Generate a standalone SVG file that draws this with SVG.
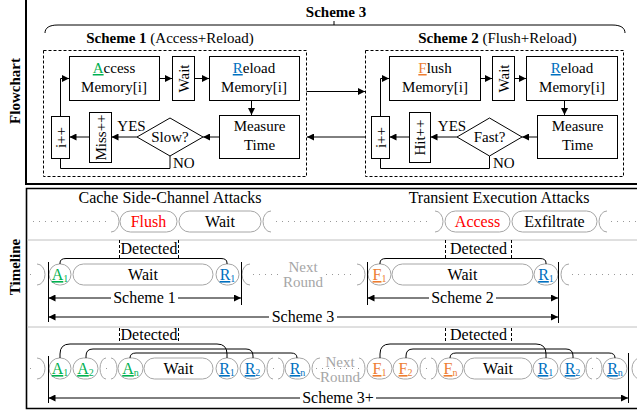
<svg xmlns="http://www.w3.org/2000/svg" width="637" height="412" viewBox="0 0 637 412">
<style>
.t{font-family:"Liberation Serif","Times New Roman",serif;font-size:15px;fill:#000}
.tl{font-size:16px}
.b{font-weight:bold}
.c{text-anchor:middle}
.box{fill:#fff;stroke:#000;stroke-width:1}
.dash{fill:none;stroke:#000;stroke-width:1;stroke-dasharray:3 2}
.ln{fill:none;stroke:#000;stroke-width:1}
.pill{fill:#fff;stroke:#a6a6a6;stroke-width:1}
.cap{fill:none;stroke:#a6a6a6;stroke-width:1}
.dot{fill:none;stroke:#999;stroke-width:1;stroke-dasharray:1 5}
.gr{fill:#a6a6a6}
.gn{fill:#00b050}
.bl{fill:#0070c0}
.or{fill:#ed7d31}
.rd{fill:#ff0000}
.u{text-decoration:underline}
.s{font-size:10px}
</style>
<defs>
<marker id="ah" viewBox="0 0 10 10" refX="10" refY="5" markerWidth="7" markerHeight="7" orient="auto-start-reverse" markerUnits="userSpaceOnUse"><path d="M0,0 L10,5 L0,10 z" fill="#000"/></marker>
</defs>

<!-- panels -->
<g id="panels">
<path d="M26,-2 V184 H640" fill="none" stroke="#000" stroke-width="2"/>
<path d="M640,188.5 H26.5 V408.5 H640" fill="none" stroke="#000" stroke-width="1.6"/>
<line x1="27" y1="240" x2="637" y2="240" stroke="#c0c0c0"/>
<line x1="27" y1="327" x2="637" y2="327" stroke="#c0c0c0"/>
<text class="t b c" font-size="20" transform="translate(20,91) rotate(-90)">Flowchart</text>
<text class="t b c" font-size="20" transform="translate(20,267) rotate(-90)">Timeline</text>
</g>

<!-- Scheme 3 brace -->
<g id="scheme3">
<text class="t b c" x="336" y="17">Scheme 3</text>
<path class="ln" d="M45,33 C45,28 49,25 58,25 H612 C621,25 625,28 625,33 M334,25 V21"/>
</g>

<!-- Scheme 1 -->
<g id="scheme1">
<rect class="dash" x="43.5" y="50.5" width="263" height="126"/>
<text class="t c" font-size="15.5" x="170" y="43"><tspan class="b">Scheme 1</tspan> (Access+Reload)</text>
</g>
<g id="s1-access"><rect class="box" x="69.5" y="56.5" width="90" height="44"/>
<text class="t c" x="114" y="73"><tspan class="gn u">A</tspan>ccess</text><text class="t c" x="114" y="92">Memory[i]</text></g>
<g id="s1-wait"><rect class="box" x="172.5" y="56.5" width="22" height="44"/>
<text class="t c" transform="translate(188.5,78.5) rotate(-90)">Wait</text></g>
<g id="s1-reload"><rect class="box" x="209.5" y="56.5" width="90" height="44"/>
<text class="t c" x="254" y="73"><tspan class="bl u">R</tspan>eload</text><text class="t c" x="254" y="92">Memory[i]</text></g>
<g id="s1-measure"><rect class="box" x="219.5" y="115.5" width="80" height="43"/>
<text class="t c" x="259.5" y="131">Measure</text><text class="t c" x="259.5" y="150">Time</text></g>
<g id="s1-slow"><polygon class="box" points="137,137 170,118 203,137 170,156"/>
<text class="t c" x="170" y="142">Slow?</text></g>
<g id="s1-miss"><rect class="box" x="89.5" y="112.5" width="22" height="50"/>
<text class="t c" transform="translate(105.5,137.5) rotate(-90)">Miss++</text></g>
<g id="s1-inc"><rect class="box" x="51.5" y="116.5" width="18" height="42"/>
<text class="t c" transform="translate(65.5,137.5) rotate(-90)">i++</text></g>

<!-- Scheme 2 -->
<g id="scheme2">
<rect class="dash" x="365.5" y="50.5" width="258" height="126"/>
<text class="t c" font-size="15.5" x="497.5" y="43"><tspan class="b">Scheme 2</tspan> (Flush+Reload)</text>
</g>
<g id="s2-flush"><rect class="box" x="389.5" y="56.5" width="91" height="44"/>
<text class="t c" x="435" y="73"><tspan class="or u">F</tspan>lush</text><text class="t c" x="435" y="92">Memory[i]</text></g>
<g id="s2-wait"><rect class="box" x="492.5" y="56.5" width="22" height="44"/>
<text class="t c" transform="translate(508.5,78.5) rotate(-90)">Wait</text></g>
<g id="s2-reload"><rect class="box" x="526.5" y="56.5" width="91" height="44"/>
<text class="t c" x="572" y="73"><tspan class="bl u">R</tspan>eload</text><text class="t c" x="572" y="92">Memory[i]</text></g>
<g id="s2-measure"><rect class="box" x="537.5" y="115.5" width="80" height="43"/>
<text class="t c" x="577.5" y="131">Measure</text><text class="t c" x="577.5" y="150">Time</text></g>
<g id="s2-fast"><polygon class="box" points="457,137 489.5,118 522,137 489.5,156"/>
<text class="t c" x="489.5" y="142">Fast?</text></g>
<g id="s2-hit"><rect class="box" x="409.5" y="112.5" width="21" height="50"/>
<text class="t c" transform="translate(425,137.5) rotate(-90)">Hit++</text></g>
<g id="s2-inc"><rect class="box" x="371.5" y="116.5" width="18" height="42"/>
<text class="t c" transform="translate(385.5,137.5) rotate(-90)">i++</text></g>

<!-- flowchart connectors -->
<g id="connectors" class="ln">
<path d="M159.5,78.5 H172" marker-end="url(#ah)"/>
<path d="M194.5,78.5 H209" marker-end="url(#ah)"/>
<path d="M251.5,100.5 V115" marker-end="url(#ah)"/>
<path d="M219.5,137 H203" marker-end="url(#ah)"/>
<path d="M137,137 H111.5" marker-end="url(#ah)"/>
<path d="M89.5,137 H69.5" marker-end="url(#ah)"/>
<path d="M60.5,116.5 V78.5 H69" marker-end="url(#ah)"/>
<path d="M170,156 V168.5 H60.5 V158.5"/>
<path d="M306.5,91.5 H365" marker-end="url(#ah)"/>
<path d="M365.5,137 H307" marker-end="url(#ah)"/>
<path d="M480.5,78.5 H492" marker-end="url(#ah)"/>
<path d="M514.5,78.5 H526" marker-end="url(#ah)"/>
<path d="M564.5,100.5 V115" marker-end="url(#ah)"/>
<path d="M537.5,137 H522" marker-end="url(#ah)"/>
<path d="M457,137 H430.5" marker-end="url(#ah)"/>
<path d="M409.5,137 H389.5" marker-end="url(#ah)"/>
<path d="M380.5,116.5 V78.5 H389" marker-end="url(#ah)"/>
<path d="M489.5,156 V168.5 H380.5 V158.5"/>
</g>
<g id="fc-labels">
<text class="t c" x="131.5" y="131">YES</text>
<text class="t" x="173" y="168">NO</text>
<text class="t c" x="452" y="131">YES</text>
<text class="t" x="493" y="168">NO</text>
</g>

<!-- Timeline row 1 -->
<g id="row1">
<text class="t tl c" x="170" y="203">Cache Side-Channel Attacks</text>
<text class="t tl c" x="499" y="203">Transient Execution Attacks</text>
<path class="dot" d="M33,221.5 H109 M276,221.5 H431 M611,221.5 H637"/>
<path class="cap" d="M111,211 A8,10.5 0 0 1 111,232 M271,211 A8,10.5 0 0 0 271,232 M435,211 A8,10.5 0 0 1 435,232 M607,211 A8,10.5 0 0 0 607,232"/>
<rect class="pill" x="120" y="211" width="57" height="21" rx="10.5"/>
<text class="t tl c rd" x="148.5" y="227">Flush</text>
<rect class="pill" x="179" y="211" width="82" height="21" rx="10.5"/>
<text class="t tl c" x="220" y="227">Wait</text>
<rect class="pill" x="445" y="211" width="65" height="21" rx="10.5"/>
<text class="t tl c rd" x="477.5" y="227">Access</text>
<rect class="pill" x="512" y="211" width="85" height="21" rx="10.5"/>
<text class="t tl c" x="554.5" y="227">Exfiltrate</text>
</g>

<!-- Timeline row 2 -->
<g id="row2">
<path class="dot" d="M30,274.5 H36 M253,274.5 H281 M326,274.5 H355 M572,274.5 H637"/>
<path class="cap" d="M37,264 A8,10.5 0 0 1 37,285 M250,264 A8,10.5 0 0 0 250,285 M357,264 A8,10.5 0 0 1 357,285 M569,264 A8,10.5 0 0 0 569,285"/>
<rect class="pill" x="49" y="264" width="22" height="21" rx="10.5"/>
<text class="t tl c gn" x="60" y="280"><tspan class="u">A</tspan><tspan class="s" dy="2">1</tspan></text>
<rect class="pill" x="73" y="264" width="140" height="21" rx="10.5"/>
<text class="t tl c" x="143" y="280">Wait</text>
<rect class="pill" x="216" y="264" width="23" height="21" rx="10.5"/>
<text class="t tl c bl" x="227.5" y="280"><tspan class="u">R</tspan><tspan class="s" dy="2">1</tspan></text>
<text class="t c gr" x="303" y="272">Next</text>
<text class="t c gr" x="303" y="287">Round</text>
<rect class="pill" x="368" y="264" width="23" height="21" rx="10.5"/>
<text class="t tl c or" x="379.5" y="280"><tspan class="u">F</tspan><tspan class="s" dy="2">1</tspan></text>
<rect class="pill" x="392" y="264" width="141" height="21" rx="10.5"/>
<text class="t tl c" x="462.5" y="280">Wait</text>
<rect class="pill" x="534" y="264" width="24" height="21" rx="10.5"/>
<text class="t tl c bl" x="546" y="280"><tspan class="u">R</tspan><tspan class="s" dy="2">1</tspan></text>
<path class="ln" d="M60,264 V263 Q60,258.5 66,258.5 H221 Q227,258.5 227,263 V264"/>
<path class="ln" d="M380,264 V263 Q380,258.5 386,258.5 H540 Q546,258.5 546,263 V264"/>
<path class="dash" d="M119.5,240 V258 M178.5,240 V258 M445.5,240 V258 M511.5,240 V258"/>
<text class="t tl c" x="149" y="254">Detected</text>
<text class="t tl c" x="478.5" y="254">Detected</text>
<path class="ln" d="M48.5,262 V322 M241.5,262 V305 M367.5,262 V305 M558.5,262 V323"/>
<path class="ln" d="M48.5,298 H111" marker-start="url(#ah)"/>
<path class="ln" d="M178,298 H241" marker-end="url(#ah)"/>
<text class="t tl c" x="144.5" y="303">Scheme 1</text>
<path class="ln" d="M367.5,298 H429" marker-start="url(#ah)"/>
<path class="ln" d="M496,298 H558" marker-end="url(#ah)"/>
<text class="t tl c" x="462.5" y="303">Scheme 2</text>
<path class="ln" d="M48.5,317 H269" marker-start="url(#ah)"/>
<path class="ln" d="M337,317 H558" marker-end="url(#ah)"/>
<text class="t tl c" x="303" y="322">Scheme 3</text>
</g>

<!-- Timeline row 3 -->
<g id="row3">
<path class="dot" d="M30,368.5 H36 M106,368.5 H112 M273,368.5 H279 M316,368.5 H362 M426,368.5 H432 M592,368.5 H597"/>
<path class="cap" d="M37,358 A8,10.5 0 0 1 37,379 M106,358 A6,10.5 0 0 0 106,379 M111,358 A6,10.5 0 0 1 111,379 M273,358 A6,10.5 0 0 0 273,379 M278,358 A6,10.5 0 0 1 278,379 M320,358 A8,10.5 0 0 0 320,379 M359,358 A6,10.5 0 0 1 359,379 M426,358 A6,10.5 0 0 0 426,379 M431,358 A6,10.5 0 0 1 431,379 M592,358 A6,10.5 0 0 0 592,379 M596,358 A6,10.5 0 0 1 596,379 M640,358 A8,10.5 0 0 0 640,379"/>
<rect class="pill" x="49" y="358" width="22" height="21" rx="10.5"/>
<text class="t tl c gn" x="60" y="374"><tspan class="u">A</tspan><tspan class="s" dy="2">1</tspan></text>
<rect class="pill" x="73" y="358" width="25" height="21" rx="10.5"/>
<text class="t tl c gn" x="85.5" y="374"><tspan class="u">A</tspan><tspan class="s" dy="2">2</tspan></text>
<rect class="pill" x="118" y="358" width="25" height="21" rx="10.5"/>
<text class="t tl c gn" x="130.5" y="374"><tspan class="u">A</tspan><tspan class="s" dy="2">n</tspan></text>
<rect class="pill" x="144" y="358" width="69" height="21" rx="10.5"/>
<text class="t tl c" x="178.5" y="374">Wait</text>
<rect class="pill" x="216" y="358" width="22" height="21" rx="10.5"/>
<text class="t tl c bl" x="227" y="374"><tspan class="u">R</tspan><tspan class="s" dy="2">1</tspan></text>
<rect class="pill" x="240" y="358" width="25" height="21" rx="10.5"/>
<text class="t tl c bl" x="252.5" y="374"><tspan class="u">R</tspan><tspan class="s" dy="2">2</tspan></text>
<rect class="pill" x="285" y="358" width="25" height="21" rx="10.5"/>
<text class="t tl c bl" x="297.5" y="374"><tspan class="u">R</tspan><tspan class="s" dy="2">n</tspan></text>
<text class="t c gr" x="340" y="367">Next</text>
<text class="t c gr" x="340" y="382">Round</text>
<rect class="pill" x="367" y="358" width="25" height="21" rx="10.5"/>
<text class="t tl c or" x="379.5" y="374"><tspan class="u">F</tspan><tspan class="s" dy="2">1</tspan></text>
<rect class="pill" x="393" y="358" width="25" height="21" rx="10.5"/>
<text class="t tl c or" x="405.5" y="374"><tspan class="u">F</tspan><tspan class="s" dy="2">2</tspan></text>
<rect class="pill" x="438" y="358" width="25" height="21" rx="10.5"/>
<text class="t tl c or" x="450.5" y="374"><tspan class="u">F</tspan><tspan class="s" dy="2">n</tspan></text>
<rect class="pill" x="464" y="358" width="68" height="21" rx="10.5"/>
<text class="t tl c" x="498" y="374">Wait</text>
<rect class="pill" x="533" y="358" width="25" height="21" rx="10.5"/>
<text class="t tl c bl" x="545.5" y="374"><tspan class="u">R</tspan><tspan class="s" dy="2">1</tspan></text>
<rect class="pill" x="560" y="358" width="25" height="21" rx="10.5"/>
<text class="t tl c bl" x="572.5" y="374"><tspan class="u">R</tspan><tspan class="s" dy="2">2</tspan></text>
<rect class="pill" x="603" y="358" width="24" height="21" rx="10.5"/>
<text class="t tl c bl" x="615" y="374"><tspan class="u">R</tspan><tspan class="s" dy="2">n</tspan></text>
<path class="ln" d="M60,358 V354 Q60,344 70,344 H217 Q227,344 227,354 V358"/>
<path class="ln" d="M86,358 V356 Q86,349 93,349 H246 Q253,349 253,356 V358"/>
<path class="ln" d="M130,358 Q130,353 136,353 H291 Q297,353 297,358"/>
<path class="ln" d="M380,358 V354 Q380,344 390,344 H536 Q546,344 546,354 V358"/>
<path class="ln" d="M406,358 V356 Q406,349 413,349 H566 Q573,349 573,356 V358"/>
<path class="ln" d="M450,358 Q450,353 456,353 H609 Q615,353 615,358"/>
<path class="dash" d="M119.5,328 V343 M178.5,328 V343 M445.5,328 V343 M511.5,328 V343"/>
<text class="t tl c" x="149" y="340">Detected</text>
<text class="t tl c" x="478.5" y="340">Detected</text>
<path class="ln" d="M48.5,356 V403 M628.5,353 V403"/>
<path class="ln" d="M48.5,398 H300" marker-start="url(#ah)"/>
<path class="ln" d="M376,398 H628" marker-end="url(#ah)"/>
<text class="t tl c" x="338" y="403">Scheme 3+</text>
</g>
</svg>
